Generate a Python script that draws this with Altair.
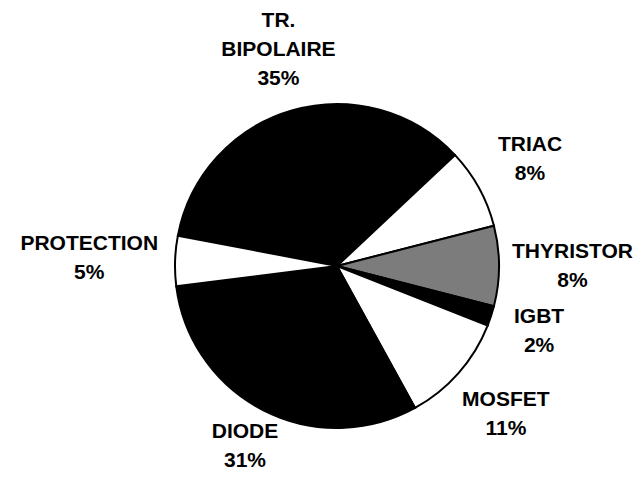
import math
import altair as alt
import pandas as pd

categories = ["TR. BIPOLAIRE", "TRIAC", "THYRISTOR", "IGBT", "MOSFET", "DIODE", "PROTECTION"]
label_lines = [["TR.", "BIPOLAIRE"], ["TRIAC"], ["THYRISTOR"], ["IGBT"], ["MOSFET"], ["DIODE"], ["PROTECTION"]]
values = [35, 8, 8, 2, 11, 31, 5]
fills = ["#000000", "#ffffff", "#7c7c7c", "#000000", "#ffffff", "#000000", "#ffffff"]

# layout / style
W, H = 627, 464
cx, cy = 329, 258
R = 162
gap = 18
fs = 21
lh = 29
half_cap = 8
char_w = 0.64 * fs
start = math.radians(-79.2)

# label distance from the pie centre, derived from the slice mid-angle and the label box size
total = sum(values)
cum = 0
label_r = []
for lines, v in zip(label_lines, values):
    mid = start + 2 * math.pi * (cum + v / 2) / total
    cum += v
    ux, uy = math.sin(mid), -math.cos(mid)
    w = max(len(s) for s in lines + [f"{v}%"]) * char_w
    top = lh / 2 + lh * (len(lines) - 1) + half_cap   # extent above the anchor
    bottom = lh / 2 + half_cap                         # extent below the anchor
    near = abs(ux) * w / 2 + (-uy * bottom if uy < 0 else uy * top)
    d = R + gap + near
    # keep the whole block inside the chart
    if uy < -1e-6:
        d = min(d, (cy - top - 5) / -uy)
    elif uy > 1e-6:
        d = min(d, (H - bottom - 3 - cy) / uy)
    if ux > 1e-6:
        d = min(d, (W - 2 - w / 2 - cx) / ux)
    elif ux < -1e-6:
        d = min(d, (cx - w / 2 - 2) / -ux)
    label_r.append(d)

df = pd.DataFrame({
    "cat": categories,
    "value": values,
    "idx": list(range(len(categories))),
    "name": [l[-1] for l in label_lines],
    "prefix": [" ".join(l[:-1]) for l in label_lines],
    "pct": [f"{v}%" for v in values],
    "lr": label_r,
})

theta_scale = alt.Scale(domain=[0, total], range=[start, start + 2 * math.pi])

base = alt.Chart(df).transform_stack(
    stack="value", groupby=[], as_=["v0", "v1"],
    sort=[alt.SortField("idx", order="ascending")],
).transform_calculate(vmid="(datum.v0 + datum.v1) / 2")

pie = base.mark_arc(stroke="#000000", strokeWidth=2, radius=R).encode(
    theta=alt.Theta("v0:Q", scale=theta_scale, stack=None),
    theta2="v1:Q",
    color=alt.Color("cat:N", scale=alt.Scale(domain=categories, range=fills), legend=None),
    x=alt.value(cx),
    y=alt.value(cy),
)

text_style = dict(font="Liberation Sans", fontWeight="bold", fontSize=fs,
                  align="center", baseline="middle", color="#000000")

def label_layer(field, dy):
    return base.mark_text(dy=dy, **text_style).encode(
        theta=alt.Theta("vmid:Q", scale=theta_scale, stack=None),
        text=f"{field}:N",
        radius=alt.Radius("lr:Q", scale=None),
        x=alt.value(cx),
        y=alt.value(cy),
    )

names = label_layer("name", -lh / 2)
pcts = label_layer("pct", lh / 2)
prefixes = label_layer("prefix", -lh * 1.5)

chart = (pie + names + pcts + prefixes).properties(
    width=W,
    height=H,
    padding=0,
    autosize=alt.AutoSizeParams(type="fit", contains="padding"),
).configure_view(stroke="transparent", strokeWidth=0)

chart.save("out.html", embed_options={"renderer": "svg", "actions": False})
